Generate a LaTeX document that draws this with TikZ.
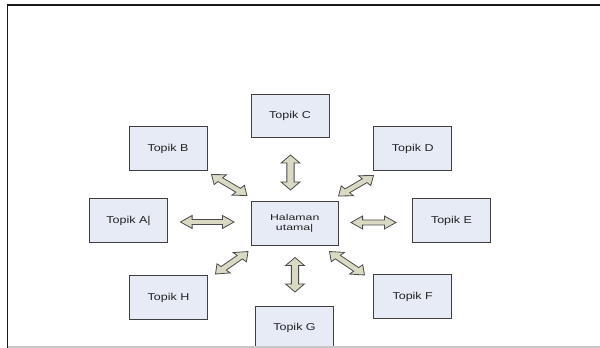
\documentclass[tikz,border=0pt]{standalone}
\usepackage{fontspec}
\setmainfont{Liberation Sans}
\newfontfamily\topicfont{Liberation Sans}[FakeStretch=1.25]
\newfontfamily\homefont{Liberation Sans}[FakeStretch=1.45]
\usetikzlibrary{calc}
\definecolor{boxfill}{HTML}{E6EBF5}
\definecolor{boxline}{HTML}{404040}
\definecolor{arrowfill}{HTML}{DADAC4}
\definecolor{arrowline}{HTML}{4A4A4A}
\definecolor{txt}{HTML}{222222}
\definecolor{framegray}{HTML}{C8C8C8}
\tikzset{
  topic/.style={draw=boxline, fill=boxfill, line width=0.9pt, minimum width=78pt, minimum height=43.5pt,
    inner sep=0pt, text=txt, font=\topicfont\fontsize{10}{12}\selectfont},
  homebox/.style={topic, minimum width=87.5pt, align=center, font=\homefont\fontsize{8.5}{10.5}\selectfont},
  blockarrow/.style={draw=arrowline, fill=arrowfill, line width=0.8pt, line join=miter,
    to path={let \p1=(\tikztostart), \p2=(\tikztotarget),
      \n1={atan2(\y2-\y1,(\x2-\x1)/1.45)}, \n2={veclen((\x2-\x1)/1.45,\y2-\y1)},
      \n3={\n2-16} in
      -- ++({1.45*(8*cos(\n1)-6.5*sin(\n1))},{8*sin(\n1)+6.5*cos(\n1)})
      -- ++({1.45*4*sin(\n1)},{-4*cos(\n1)})
      -- ++({1.45*\n3*cos(\n1)},{\n3*sin(\n1)})
      -- ++({-1.45*4*sin(\n1)},{4*cos(\n1)})
      -- ++({1.45*(8*cos(\n1)+6.5*sin(\n1))},{8*sin(\n1)-6.5*cos(\n1)})
      -- ++({1.45*(-8*cos(\n1)+6.5*sin(\n1))},{-8*sin(\n1)-6.5*cos(\n1)})
      -- ++({-1.45*4*sin(\n1)},{4*cos(\n1)})
      -- ++({-1.45*\n3*cos(\n1)},{-\n3*sin(\n1)})
      -- ++({1.45*4*sin(\n1)},{-4*cos(\n1)})
      -- cycle}}
}
\begin{document}
\begin{tikzpicture}[x=1pt,y=1pt]
\useasboundingbox (0,0) rectangle (600,348);
\fill[white] (0,0) rectangle (600,348);
% frame
\draw[line width=1.8pt, color=black!90] (7.5,0) -- (7.5,342.8) -- (600,342.8);
% boxes
\node[topic] (C) at (290,232) {Topik C};
\node[topic] (B) at (168,199.5) {Topik B};
\node[topic] (D) at (412.7,199.5) {Topik D};
\node[topic] (A) at (128.5,127.5) {Topik A|};
\node[homebox] (home) at (294.7,124.7) {Halaman\\utama|};
\node[topic] (E) at (451.5,127.5) {Topik E};
\node[topic] (H) at (168.5,50.5) {Topik H};
\node[topic] (F) at (412.7,51.5) {Topik F};
\node[topic] (G) at (294.5,20) {Topik G};
% arrow end points
\coordinate (c1) at (290.5,193); \coordinate (c2) at (290.5,158);
\coordinate (g1) at (295,90.5);  \coordinate (g2) at (295,56);
\coordinate (a1) at (180.5,126); \coordinate (a2) at (234,126);
\coordinate (e1) at (351,125.5); \coordinate (e2) at (396,125.5);
\coordinate (b1) at (211.5,173.5); \coordinate (b2) at (247,152.5);
\coordinate (d1) at (373.5,172.5); \coordinate (d2) at (338.5,152);
\coordinate (h1) at (215.5,74); \coordinate (h2) at (248,96.5);
\coordinate (f1) at (329.5,96.5); \coordinate (f2) at (364.5,73);
\foreach \s/\t in {c1/c2,g1/g2,a1/a2,e1/e2,b1/b2,d1/d2,h1/h2,f1/f2}
  \draw[blockarrow] (\s) to (\t);
% bottom gray line
\draw[line width=1.5pt, color=framegray] (7.5,1) -- (600,1);
\end{tikzpicture}
\end{document}
